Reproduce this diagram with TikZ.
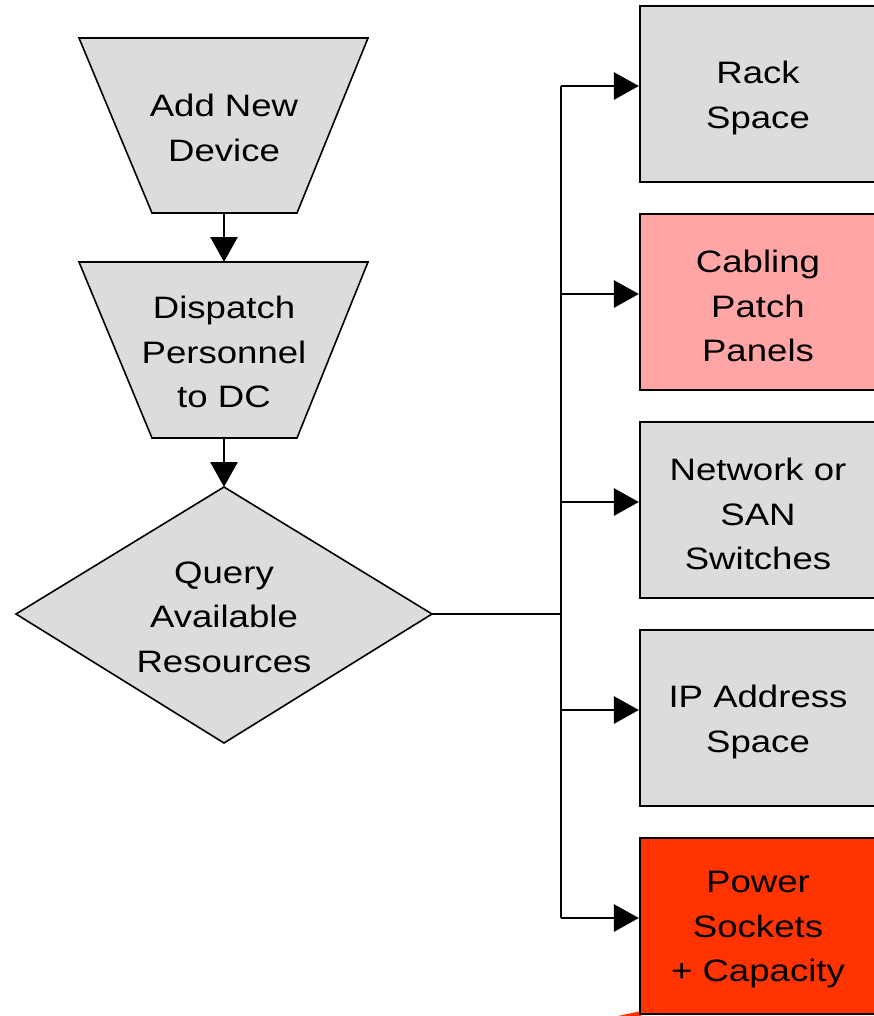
\documentclass[tikz,border=0pt]{standalone}
\usepackage{fontspec}
\setmainfont[FakeStretch=1.18]{Liberation Sans}
\usetikzlibrary{arrows.meta}
\definecolor{boxgray}{HTML}{DCDCDC}
\definecolor{boxpink}{HTML}{FFA5A5}
\definecolor{boxred}{HTML}{FF3300}
\tikzset{
  lbl/.style={align=center, inner sep=0pt, font=\fontsize{31}{44.5}\selectfont},
  shapeline/.style={draw=black, line width=1.6pt, fill=boxgray, line join=miter},
  resbox/.style={draw=black, line width=2.2pt, minimum width=236pt, minimum height=176pt,
    align=center, inner sep=0pt},
  conn/.style={draw=black, line width=2.8pt},
  arr/.style={conn, -{Triangle[length=25pt,width=27pt]}},
}
\begin{document}
\begin{tikzpicture}[x=1pt,y=-1pt]
\useasboundingbox (0,0) rectangle (873,1016);
% red sliver at bottom
\fill[boxred] (618,1016) -- (641,1011) -- (641,1016) -- cycle;
% trapezoids
\path[shapeline] (79,38) -- (368,38) -- (297,213) -- (152,213) -- cycle;
\path[shapeline] (79,262) -- (368,262) -- (297,438) -- (152,438) -- cycle;
% diamond
\path[shapeline] (224,487) -- (432,614) -- (224,743) -- (16,614) -- cycle;
\node[lbl] (add) at (224,128) {Add New\\Device};
\node[lbl] (disp) at (224,352) {Dispatch\\Personnel\\to DC};
\node[lbl] (query) at (224,617) {Query\\Available\\Resources};
\coordinate (addB) at (224,213);
\coordinate (dispT) at (224,262);
\coordinate (dispB) at (224,438);
\coordinate (qT) at (224,487);
\coordinate (qR) at (432,614);
% resource boxes
\node[resbox, fill=boxgray] (rack) at (758,94) {};
\node[resbox, fill=boxpink] (cab) at (758,302) {};
\node[resbox, fill=boxgray] (net) at (758,510) {};
\node[resbox, fill=boxgray] (ip) at (758,718) {};
\node[resbox, fill=boxred] (pow) at (758,926) {};
\node[lbl] (rackT) at (758,98) {Rack\\Space};
\node[lbl] (cabT) at (758,306) {Cabling\\Patch\\Panels};
\node[lbl] (netT) at (758,514) {Network or\\SAN\\Switches};
\node[lbl] (ipT) at (758,722) {IP Address\\Space};
\node[lbl] (powT) at (758,930) {Power\\Sockets\\+ Capacity};
% connectors
\draw[arr] (addB) -- (dispT);
\draw[arr] (dispB) -- (qT);
\coordinate (j) at (561,614);
\coordinate (jt) at (561,86);
\coordinate (j2) at (561,294);
\coordinate (j3) at (561,502);
\coordinate (j4) at (561,710);
\coordinate (jb) at (561,918);
\draw[conn] (qR) -- (j);
\draw[conn] (jt) -- (jb);
\draw[arr] (jt) -- (rack.west |- jt);
\draw[arr] (j2) -- (cab.west |- j2);
\draw[arr] (j3) -- (net.west |- j3);
\draw[arr] (j4) -- (ip.west |- j4);
\draw[arr] (jb) -- (pow.west |- jb);
\end{tikzpicture}
\end{document}
